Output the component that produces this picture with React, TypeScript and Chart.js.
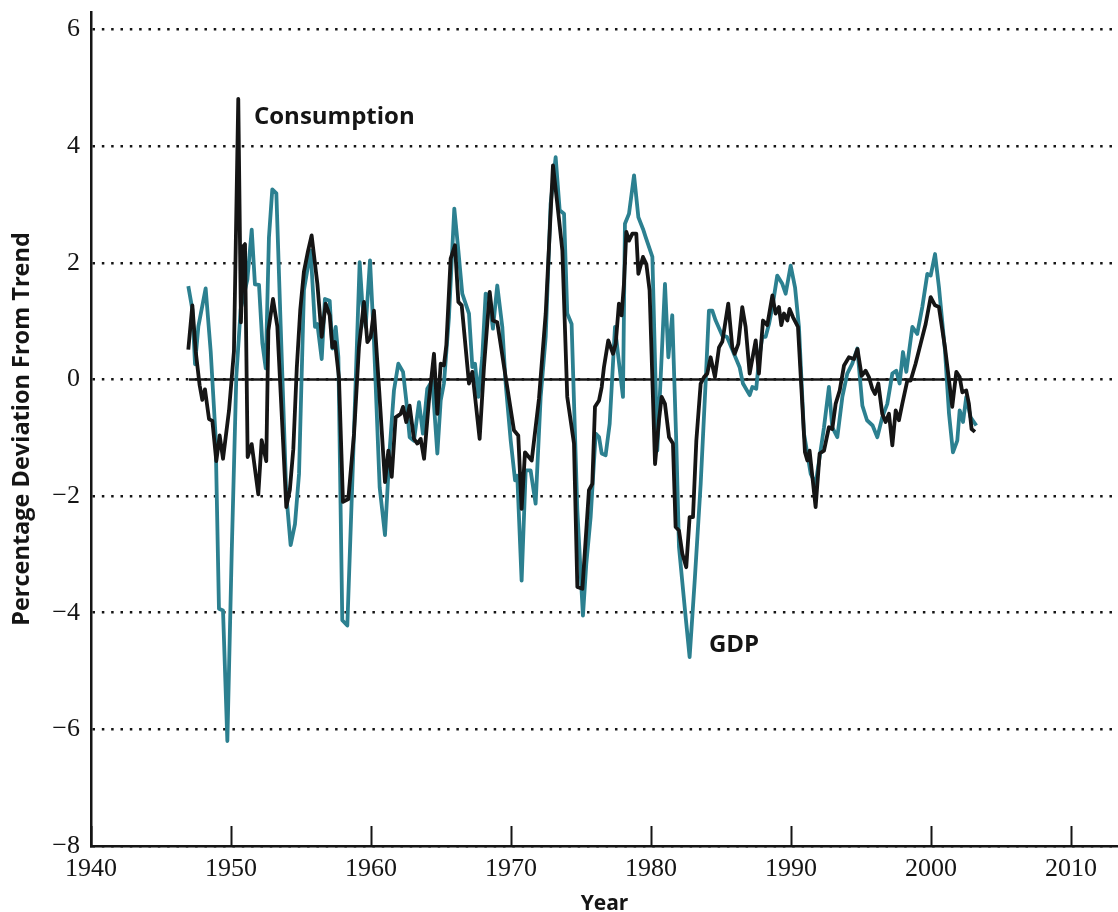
import React, { useEffect, useRef } from 'react';
import { Chart, registerables } from 'chart.js';

Chart.register(...registerables);

// Consumption: percentage deviation from trend (black)
const consumptionYears = [
  1946.95, 1947.24, 1947.48, 1947.76, 1947.95, 1948.14, 1948.43, 1948.67, 1948.95, 1949.19,
  1949.43, 1949.86, 1950.21, 1950.52, 1950.71, 1950.86, 1951.0, 1951.19, 1951.48, 1951.95,
  1952.19, 1952.52, 1952.67, 1953.0, 1953.31, 1953.67, 1953.95, 1954.2, 1954.45, 1954.7,
  1954.95, 1955.21, 1955.5, 1955.76, 1956.17, 1956.48, 1956.76, 1957.05, 1957.24, 1957.43,
  1957.71, 1958.0, 1958.38, 1958.79, 1959.14, 1959.5, 1959.74, 1959.98, 1960.21, 1960.57,
  1961.0, 1961.24, 1961.48, 1961.76, 1962.12, 1962.29, 1962.52, 1962.76, 1963.07, 1963.31,
  1963.55, 1963.79, 1964.14, 1964.5, 1964.74, 1964.98, 1965.21, 1965.38, 1965.69, 1966.0,
  1966.24, 1966.48, 1967.0, 1967.24, 1967.76, 1968.07, 1968.48, 1968.71, 1969.02, 1969.62,
  1970.21, 1970.52, 1970.76, 1971.0, 1971.48, 1972.0, 1972.48, 1973.0, 1973.31, 1973.67,
  1974.02, 1974.5, 1974.74, 1975.1, 1975.57, 1975.81, 1976.0, 1976.29, 1976.48, 1976.64,
  1976.95, 1977.29, 1977.48, 1977.71, 1977.9, 1978.07, 1978.24, 1978.43, 1978.67, 1978.95,
  1979.1, 1979.43, 1979.67, 1979.9, 1980.29, 1980.57, 1980.76, 1981.0, 1981.29, 1981.57,
  1981.76, 1982.0, 1982.24, 1982.52, 1982.76, 1983.0, 1983.24, 1983.55, 1983.79, 1984.02,
  1984.26, 1984.57, 1984.86, 1985.1, 1985.52, 1985.81, 1985.98, 1986.24, 1986.52, 1986.76,
  1987.05, 1987.48, 1987.71, 1988.0, 1988.31, 1988.67, 1988.9, 1989.14, 1989.31, 1989.5,
  1989.74, 1989.9, 1990.14, 1990.5, 1991.0, 1991.17, 1991.33, 1991.76, 1992.05, 1992.36,
  1992.71, 1992.95, 1993.19, 1993.48, 1993.79, 1994.14, 1994.5, 1994.75, 1995.05, 1995.33,
  1995.57, 1995.81, 1996.0, 1996.24, 1996.52, 1996.76, 1997.0, 1997.24, 1997.48, 1997.71,
  1997.95, 1998.31, 1998.55, 1998.9, 1999.26, 1999.62, 1999.98, 2000.29, 2000.57, 2001.0,
  2001.29, 2001.52, 2001.81, 2002.05, 2002.24, 2002.52, 2002.71, 2002.9, 2003.14,
];
const consumptionValues = [
  0.51, 1.27, 0.48, -0.10, -0.35, -0.17, -0.68, -0.71, -1.40, -0.96,
  -1.36, -0.53, 0.48, 4.81, 0.98, 2.28, 2.32, -1.33, -1.11, -1.97,
  -1.04, -1.40, 0.84, 1.38, 0.91, -0.82, -2.19, -1.9, -1.2, 0.2,
  1.2, 1.85, 2.2, 2.47, 1.64, 0.73, 1.30, 1.10, 0.55, 0.64,
  0.04, -2.10, -2.05, -0.93, 0.55, 1.33, 0.64, 0.73, 1.18, -0.13,
  -1.76, -1.22, -1.67, -0.65, -0.59, -0.47, -0.73, -0.45, -1.02, -1.10,
  -1.02, -1.36, -0.36, 0.44, -0.59, 0.27, 0.24, 0.58, 2.07, 2.30,
  1.33, 1.27, -0.07, 0.13, -1.02, 0.21, 1.50, 1.01, 0.98, 0.04,
  -0.87, -0.96, -2.22, -1.25, -1.39, -0.33, 1.13, 3.67, 3.01, 2.21,
  -0.30, -1.10, -3.56, -3.59, -1.90, -1.79, -0.47, -0.36, -0.13, 0.21,
  0.67, 0.44, 0.61, 1.30, 1.10, 1.64, 2.53, 2.38, 2.50, 2.50,
  1.81, 2.10, 1.98, 1.53, -1.45, -0.70, -0.30, -0.42, -0.99, -1.10,
  -2.53, -2.59, -2.99, -3.22, -2.36, -2.36, -1.05, -0.07, 0.04, 0.10,
  0.38, 0.04, 0.55, 0.65, 1.30, 0.55, 0.44, 0.61, 1.24, 0.90,
  0.10, 0.67, 0.10, 1.01, 0.93, 1.44, 1.13, 1.24, 0.93, 1.13,
  1.01, 1.21, 1.07, 0.90, -1.25, -1.39, -1.22, -2.19, -1.27, -1.22,
  -0.82, -0.85, -0.42, -0.19, 0.24, 0.38, 0.35, 0.52, 0.06, 0.15,
  0.04, -0.16, -0.25, -0.07, -0.59, -0.73, -0.59, -1.13, -0.53, -0.70,
  -0.42, -0.02, -0.02, 0.27, 0.61, 0.95, 1.41, 1.27, 1.24, 0.55,
  -0.02, -0.47, 0.13, 0.04, -0.22, -0.19, -0.42, -0.85, -0.90,
];

// GDP: percentage deviation from trend (teal)
const gdpYears = [
  1946.95, 1947.24, 1947.43, 1947.67, 1948.19, 1948.55, 1948.9, 1949.14, 1949.43, 1949.74,
  1950.05, 1950.38, 1950.69, 1951.17, 1951.48, 1951.71, 1952.0, 1952.24, 1952.48, 1952.71,
  1952.95, 1953.24, 1953.55, 1953.95, 1954.26, 1954.57, 1954.86, 1955.21, 1955.69, 1956.0,
  1956.17, 1956.48, 1956.71, 1957.05, 1957.24, 1957.48, 1957.67, 1957.95, 1958.31, 1958.67,
  1959.19, 1959.38, 1959.62, 1959.93, 1960.21, 1960.62, 1961.0, 1961.33, 1961.64, 1961.95,
  1962.29, 1962.52, 1962.76, 1963.07, 1963.43, 1963.71, 1964.02, 1964.38, 1964.74, 1964.98,
  1965.21, 1965.57, 1965.95, 1966.24, 1966.52, 1967.0, 1967.24, 1967.43, 1967.67, 1967.95,
  1968.19, 1968.43, 1968.71, 1969.02, 1969.38, 1969.62, 1969.98, 1970.29, 1970.45, 1970.76,
  1971.05, 1971.4, 1971.76, 1972.12, 1972.48, 1972.83, 1973.19, 1973.48, 1973.79, 1974.02,
  1974.33, 1974.74, 1975.14, 1975.38, 1975.69, 1976.05, 1976.29, 1976.48, 1976.76, 1977.05,
  1977.43, 1977.67, 1978.0, 1978.14, 1978.43, 1978.79, 1979.1, 1979.43, 1979.62, 1980.1,
  1980.45, 1980.76, 1981.0, 1981.24, 1981.52, 1981.81, 1982.0, 1982.43, 1982.76, 1983.14,
  1983.55, 1983.9, 1984.14, 1984.38, 1984.62, 1985.1, 1985.43, 1985.98, 1986.33, 1986.57,
  1987.05, 1987.24, 1987.52, 1987.71, 1987.95, 1988.19, 1988.43, 1988.67, 1989.02, 1989.38,
  1989.62, 1989.98, 1990.29, 1990.57, 1990.93, 1991.41, 1991.76, 1992.05, 1992.36, 1992.71,
  1992.95, 1993.31, 1993.67, 1994.02, 1994.38, 1994.74, 1995.1, 1995.43, 1995.83, 1996.17,
  1996.52, 1996.88, 1997.24, 1997.52, 1997.76, 1998.0, 1998.24, 1998.67, 1999.02, 1999.38,
  1999.74, 1999.98, 2000.29, 2000.57, 2001.0, 2001.29, 2001.57, 2001.88, 2002.05, 2002.29,
  2002.52, 2002.83, 2003.24,
];
const gdpValues = [
  1.60, 1.20, 0.26, 0.91, 1.56, 0.48, -0.97, -3.93, -3.96, -6.20,
  -2.98, 0.05, 1.20, 1.71, 2.57, 1.63, 1.62, 0.62, 0.19, 2.43,
  3.26, 3.19, 0.91, -1.97, -2.84, -2.48, -1.62, 1.53, 2.21, 0.90,
  0.95, 0.35, 1.38, 1.35, 0.53, 0.90, 0.38, -4.13, -4.22, -1.73,
  2.01, 1.30, 0.90, 2.04, 0.67, -1.85, -2.67, -1.22, -0.19, 0.27,
  0.13, -0.36, -0.99, -1.05, -0.39, -0.93, -0.16, -0.02, -1.27, -0.36,
  -0.07, 1.07, 2.93, 2.21, 1.47, 1.13, 0.21, 0.27, -0.30, 0.38,
  1.47, 1.44, 0.87, 1.61, 0.90, -0.07, -1.05, -1.73, -1.65, -3.45,
  -1.56, -1.56, -2.13, -0.30, 0.73, 3.01, 3.81, 2.90, 2.84, 1.13,
  0.95, -2.25, -4.05, -3.16, -2.36, -0.93, -0.99, -1.27, -1.30, -0.76,
  0.90, 0.38, -0.30, 2.67, 2.84, 3.50, 2.78, 2.58, 2.44, 2.10,
  -1.22, 0.38, 1.64, 0.38, 1.10, -1.10, -2.87, -3.96, -4.76, -3.39,
  -1.79, -0.07, 1.18, 1.18, 1.01, 0.75, 0.73, 0.41, 0.21, -0.07,
  -0.27, -0.13, -0.16, 0.33, 0.73, 0.73, 0.95, 1.24, 1.78, 1.64,
  1.47, 1.95, 1.58, 0.90, -0.93, -1.62, -1.79, -1.33, -0.82, -0.13,
  -0.82, -0.99, -0.30, 0.10, 0.27, 0.53, -0.45, -0.70, -0.79, -0.99,
  -0.65, -0.42, 0.10, 0.15, -0.07, 0.47, 0.13, 0.90, 0.78, 1.24,
  1.81, 1.78, 2.15, 1.58, 0.50, -0.59, -1.25, -1.05, -0.53, -0.73,
  -0.30, -0.65, -0.79,
];

const zeroLineYears = [1947, 2003];
const zeroLineValues = [0, 0];

const xTickYears = [1940, 1950, 1960, 1970, 1980, 1990, 2000, 2010];
const yTickValues = [-8, -6, -4, -2, 0, 2, 4, 6];

const annotationTexts = ['Consumption', 'GDP'];
const annotationYears = [1951.64, 1984.14];
const annotationValues = [4.5, -4.56];

const TEAL = '#2c8090';
const INK = '#151515';

const toPoints = (xs: number[], ys: number[]) => xs.map((x, i) => ({ x, y: ys[i] }));

const overlayPlugin = {
  id: 'overlay',
  afterDraw(chart: any) {
    const { ctx, scales, chartArea } = chart;
    const xs = scales.x;
    const ys = scales.y;
    ctx.save();
    // inside tick marks on the x axis
    ctx.strokeStyle = INK;
    ctx.lineWidth = 2;
    xTickYears.forEach((yr) => {
      const px = Math.round(xs.getPixelForValue(yr)) + 0.5;
      ctx.beginPath();
      ctx.moveTo(px, chartArea.bottom);
      ctx.lineTo(px, chartArea.bottom - 20);
      ctx.stroke();
    });
    // text labels
    ctx.fillStyle = INK;
    ctx.font = 'bold 24px "Open Sans"';
    ctx.textAlign = 'left';
    ctx.textBaseline = 'middle';
    annotationTexts.forEach((t, i) => {
      ctx.fillText(t, xs.getPixelForValue(annotationYears[i]), ys.getPixelForValue(annotationValues[i]));
    });
    ctx.restore();
  },
};

export default function App() {
  const ref = useRef<HTMLCanvasElement | null>(null);

  useEffect(() => {
    const canvas = ref.current;
    if (!canvas) return;
    const chart = new Chart(canvas, {
      type: 'line',
      data: {
        datasets: [
          {
            label: 'Consumption',
            data: toPoints(consumptionYears, consumptionValues),
            borderColor: INK,
            borderWidth: 3.8,
            pointRadius: 0,
            tension: 0,
            borderJoinStyle: 'round',
            fill: false,
          },
          {
            label: 'GDP',
            data: toPoints(gdpYears, gdpValues),
            borderColor: TEAL,
            borderWidth: 3.8,
            pointRadius: 0,
            tension: 0,
            borderJoinStyle: 'round',
            fill: false,
          },
          {
            label: 'zero',
            data: toPoints(zeroLineYears, zeroLineValues),
            borderColor: INK,
            borderWidth: 2.5,
            pointRadius: 0,
            tension: 0,
            fill: false,
          },
        ],
      },
      options: {
        animation: false,
        responsive: false,
        maintainAspectRatio: false,
        layout: { padding: { top: 12, right: 0, left: 0, bottom: 0 } },
        plugins: {
          legend: { display: false },
          tooltip: { enabled: false },
        },
        scales: {
          x: {
            type: 'linear',
            min: 1940,
            max: 2013.36,
            afterBuildTicks: (scale: any) => {
              scale.ticks = xTickYears.map((v) => ({ value: v }));
            },
            afterFit: (scale: any) => {
              scale.height = 66;
              scale.paddingLeft = 0;
              scale.paddingRight = 0;
            },
            grid: { display: false, drawTicks: false },
            border: { display: true, color: INK, width: 2.5 },
            ticks: {
              autoSkip: false,
              maxRotation: 0,
              padding: 8,
              color: INK,
              font: { family: '"Liberation Serif"', size: 26 },
              callback: (v: any) => String(v),
            },
            title: {
              display: true,
              text: 'Year',
              color: INK,
              font: { family: '"Open Sans"', weight: 'bold', size: 21, lineHeight: 1 },
              padding: { top: 0, bottom: -3 },
            },
          },
          y: {
            type: 'linear',
            min: -8,
            max: 6.3,
            afterBuildTicks: (scale: any) => {
              scale.ticks = yTickValues.map((v) => ({ value: v }));
            },
            afterFit: (scale: any) => {
              scale.width = 91;
              scale.paddingTop = 0;
              scale.paddingBottom = 0;
            },
            grid: {
              color: INK,
              lineWidth: 2.5,
              drawTicks: false,
              tickLength: 0,
            },
            border: { display: true, color: INK, width: 2.5, dash: [2.5, 6.83], dashOffset: 0 },
            ticks: {
              padding: 11,
              color: INK,
              font: { family: '"Liberation Serif"', size: 26 },
              callback: (v: any) => (Number(v) < 0 ? '\u2212' + Math.abs(Number(v)) : String(v)),
            },
            title: {
              display: true,
              text: 'Percentage Deviation From Trend',
              color: INK,
              font: { family: '"Open Sans"', weight: 'bold', size: 23.5, lineHeight: 1 },
              padding: { top: 11, bottom: 0 },
            },
          },
        },
      },
      plugins: [overlayPlugin],
    } as any);
    return () => chart.destroy();
  }, []);

  return (
    <div style={{ position: 'absolute', left: 0, top: 0, width: 1118, height: 912, background: '#fff' }}>
      <canvas ref={ref} width={1118} height={912} style={{ display: 'block' }} />
    </div>
  );
}
